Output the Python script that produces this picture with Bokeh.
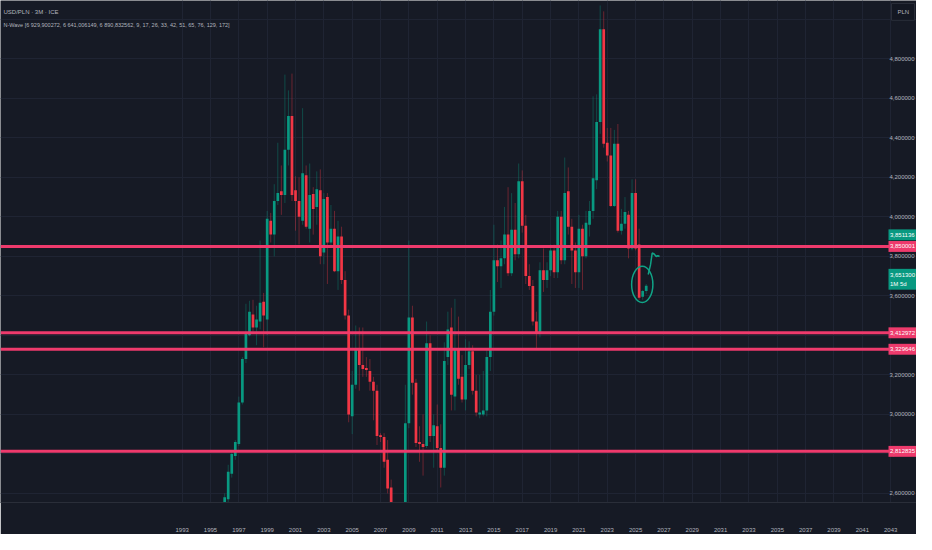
from bokeh.plotting import figure
from bokeh.models import Range1d, FixedTicker, CustomJSTickFormatter, Span, ColumnDataSource
from bokeh.core.properties import value
from bokeh.embed import file_html
from bokeh.resources import INLINE

# ---------------- data (quarterly USD/PLN candles, first bar = Q1 1996) ----------------
start_year = 1996.0
opens = [2.47, 2.57, 2.70, 2.79, 2.85, 3.06, 3.28, 3.40, 3.505, 3.44,
         3.47, 3.57, 3.48, 3.98, 3.91, 4.08, 4.13, 4.11, 4.34, 4.51,
         4.135, 4.08, 3.98, 4.21, 3.94, 4.115, 4.05, 4.135, 3.82, 4.10,
         3.87, 3.94, 3.725, 3.90, 3.68, 3.50, 2.99, 3.15, 3.335, 3.25,
         3.235, 3.22, 3.165, 3.12, 2.895, 2.885, 2.77, 2.63, 2.45, 2.24,
         2.14, 2.40, 2.955, 3.49, 3.16, 2.86, 2.85, 2.84, 3.36, 2.89,
         2.94, 2.83, 2.73, 3.29, 3.44, 3.09, 3.335, 3.19, 3.075, 3.25,
         3.32, 3.12, 3.00, 3.00, 3.02, 3.29, 3.52, 3.78, 3.75, 3.79,
         3.91, 3.715, 3.935, 3.81, 4.18, 3.955, 3.70, 3.65, 3.47, 3.41,
         3.73, 3.68, 3.73, 3.83, 3.72, 4.00, 3.78, 4.13, 3.95, 3.83,
         3.72, 3.94, 3.80, 3.96, 4.03, 4.185, 4.48, 4.95, 4.375, 4.31,
         4.055, 4.37, 3.93, 3.965, 4.01, 3.84, 4.12, 3.86, 3.595, 3.625]
highs = [2.60, 2.745, 2.82, 2.87, 3.09, 3.29, 3.56, 3.575, 3.58, 3.55,
         3.88, 3.615, 4.03, 4.02, 4.165, 4.375, 4.26, 4.72, 4.64, 4.725,
         4.205, 4.20, 4.55, 4.26, 4.27, 4.15, 4.23, 4.24, 4.12, 4.12,
         4.06, 4.03, 3.98, 3.95, 3.725, 3.53, 3.22, 3.45, 3.44, 3.44,
         3.29, 3.28, 3.19, 3.15, 2.905, 2.905, 2.87, 2.67, 2.48, 2.27,
         2.45, 3.15, 3.88, 3.55, 3.18, 2.94, 3.00, 3.47, 3.40, 3.00,
         3.05, 2.95, 3.365, 3.52, 3.54, 3.585, 3.495, 3.30, 3.38, 3.37,
         3.35, 3.20, 3.20, 3.22, 3.33, 3.63, 3.96, 3.86, 3.88, 4.05,
         4.15, 4.12, 4.07, 4.27, 4.235, 4.01, 3.76, 3.68, 3.52, 3.77,
         3.84, 3.77, 3.86, 3.86, 4.03, 4.03, 4.30, 4.25, 3.99, 3.87,
         4.01, 3.96, 4.03, 4.08, 4.61, 4.62, 5.07, 5.04, 4.45, 4.45,
         4.44, 4.47, 4.04, 4.10, 4.03, 4.19, 4.19, 3.94, 3.63, 3.66]
lows = [2.45, 2.55, 2.68, 2.77, 2.84, 3.05, 3.26, 3.395, 3.42, 3.35,
        3.43, 3.34, 3.40, 3.87, 3.80, 4.06, 4.01, 4.07, 4.26, 4.08,
        3.93, 3.86, 3.96, 3.94, 3.87, 3.91, 3.96, 3.76, 3.76, 3.66,
        3.85, 3.72, 3.63, 3.66, 3.48, 2.96, 2.90, 3.13, 3.12, 3.19,
        3.19, 3.12, 2.97, 2.845, 2.86, 2.73, 2.60, 2.43, 2.20, 2.02,
        2.10, 2.30, 2.93, 3.10, 2.835, 2.76, 2.69, 2.83, 2.86, 2.73,
        2.82, 2.63, 2.69, 3.25, 3.02, 3.02, 3.15, 3.06, 3.02, 3.23,
        3.10, 2.99, 2.98, 2.99, 2.99, 3.22, 3.50, 3.67, 3.64, 3.76,
        3.70, 3.70, 3.78, 3.79, 3.92, 3.66, 3.63, 3.45, 3.33, 3.39,
        3.62, 3.64, 3.70, 3.69, 3.69, 3.76, 3.76, 3.91, 3.66, 3.64,
        3.64, 3.63, 3.79, 3.90, 3.99, 4.14, 4.42, 4.35, 4.28, 4.05,
        4.05, 3.92, 3.91, 3.94, 3.79, 3.83, 3.83, 3.58, 3.58, 3.61]
closes = [2.58, 2.71, 2.80, 2.86, 3.06, 3.28, 3.41, 3.52, 3.44, 3.48,
          3.565, 3.50, 3.99, 3.91, 4.08, 4.12, 4.11, 4.34, 4.51, 4.11,
          4.08, 4.00, 4.22, 3.95, 4.11, 4.04, 4.14, 3.80, 4.09, 3.87,
          3.94, 3.725, 3.90, 3.68, 3.50, 3.00, 3.15, 3.33, 3.25, 3.23,
          3.225, 3.165, 3.12, 2.89, 2.885, 2.76, 2.625, 2.45, 2.24, 2.14,
          2.40, 2.955, 3.49, 3.16, 2.855, 2.85, 2.835, 3.36, 2.89, 2.945,
          2.83, 2.73, 3.27, 3.43, 3.10, 3.33, 3.18, 3.075, 3.25, 3.32,
          3.12, 3.01, 3.01, 3.02, 3.29, 3.52, 3.78, 3.75, 3.79, 3.91,
          3.715, 3.935, 3.81, 4.18, 3.955, 3.70, 3.65, 3.47, 3.41, 3.73,
          3.68, 3.73, 3.83, 3.72, 4.00, 3.78, 4.12, 3.95, 3.83, 3.72,
          3.94, 3.80, 3.97, 4.03, 4.195, 4.48, 4.95, 4.37, 4.31, 4.055,
          4.37, 3.93, 3.965, 4.025, 3.84, 4.12, 3.84, 3.59, 3.625, 3.6513]

level_prices = [3.850001, 3.412972, 3.329646, 2.812835]
level_labels = ["3,850001", "3,412972", "3,329646", "2,812835"]
year_ticks = list(range(1993, 2045, 2))
price_ticks = [2.6, 2.8, 3.0, 3.2, 3.4, 3.6, 3.8, 4.0, 4.2, 4.4, 4.6, 4.8, 5.0]
last_price = 3.6513
last_label = ["3,651300", "1M 5d"]
prev_price = 3.851136
prev_label = "3,851136"
currency = "PLN"
title1 = "USD/PLN · 3M · ICE"
title2 = "N-Wave [6 929,900272, 6 641,006149, 6 890,832562, 9, 17, 26, 33, 42, 51, 65, 76, 129, 172]"

# hand-drawn annotation (data units)
circle_x, circle_y, circle_w, circle_h = 2025.47, 3.658, 1.50, 0.184
flag_x = [2025.89, 2026.055, 2026.17, 2026.31, 2026.455, 2026.57, 2026.69]
flag_y = [3.708, 3.758, 3.817, 3.812, 3.799, 3.803, 3.799]

# ---------------- styling / layout ----------------
FONT = "Liberation Sans"
BG = "#161a25"
GRID = "#1f2433"
TXT = "#b2b5be"
UP = "#089981"
DN = "#f23645"
PINK = "#ee3a6c"
TEAL = "#10a386"

W, H, BOTTOM = 916, 534, 28
PXX = 14.17                     # pixels per year
X0 = 1980.18
X1 = X0 + W / PXX
XS = X0 + (W - 28) / PXX        # start of the price-scale strip (28 px wide)
Y1, Y0 = 5.095, 2.554
PXY = (H - BOTTOM) / (Y1 - Y0)  # pixels per price unit
PX = 1.0 / PXY
DX = 1.0 / PXX

times = [start_year + 0.25 * i for i in range(len(opens))]
colors = [UP if c >= o else DN for o, c in zip(opens, closes)]
src = ColumnDataSource(dict(
    t=times, o=opens, h=highs, l=lows, c=closes,
    top=[max(o, c) for o, c in zip(opens, closes)],
    bot=[min(o, c) for o, c in zip(opens, closes)],
    col=colors))

p = figure(width=W, height=H, x_range=Range1d(X0, X1), y_range=Range1d(Y0, Y1),
           output_backend="svg", toolbar_location=None, y_axis_location=None,
           min_border_left=0, min_border_top=0, min_border_right=0, min_border_bottom=BOTTOM)
p.background_fill_color = BG
p.border_fill_color = BG
p.outline_line_color = None

# x axis
p.xaxis.ticker = FixedTicker(ticks=year_ticks)
p.xaxis.formatter = CustomJSTickFormatter(code="return tick.toFixed(0);")
p.xaxis.major_label_text_font = FONT
p.xaxis.major_label_text_font_size = "6px"
p.xaxis.major_label_text_color = TXT
p.xaxis.major_tick_line_color = None
p.xaxis.minor_tick_line_color = None
p.xaxis.axis_line_color = "#2a2e39"
p.xaxis.major_label_standoff = 19
p.xgrid.grid_line_color = GRID
p.ygrid.ticker = FixedTicker(ticks=price_ticks)
p.ygrid.grid_line_color = GRID

# candles
p.segment(x0="t", x1="t", y0="l", y1="h", source=src, line_color="col", line_alpha=0.38, line_width=1)
p.vbar(x="t", width=0.19, top="top", bottom="bot", source=src, fill_color="col", line_color=None)

# horizontal levels
for lv in level_prices:
    p.add_layout(Span(location=lv, dimension="width", line_color=PINK, line_width=3))

# annotation
p.ellipse(x=[circle_x], y=[circle_y], width=[circle_w], height=[circle_h],
          fill_color=None, line_color=TEAL, line_width=1.5)
p.line(flag_x, flag_y, line_color=TEAL, line_width=1.5)

# ---------------- price scale strip ----------------
shown = [v for v in price_ticks if v < 4.9]
tick_text = [f"{v:.6f}".replace(".", ",") for v in shown]
p.text(x=[X1] * len(shown), y=shown, text=tick_text, x_offset=-2,
       text_align="right", text_baseline="middle", text_font=value(FONT),
       text_font_size="6px", text_color=TXT, level="overlay")

def boxes(prices, labels, fill, half_px=5.5, shift_px=0.0):
    ys = [v + shift_px * PX for v in prices]
    p.quad(left=[XS] * len(ys), right=[X1] * len(ys),
           top=[y + half_px * PX for y in ys], bottom=[y - half_px * PX for y in ys],
           fill_color=fill, line_color=None, level="overlay")
    p.text(x=[XS] * len(ys), y=ys, text=labels, x_offset=1.5, text_align="left",
           text_baseline="middle", text_font=value(FONT), text_font_size="6px",
           text_color="white", level="overlay")

boxes(level_prices, level_labels, PINK)
boxes([prev_price], [prev_label], UP, shift_px=11.5)
# current price: two-line box
p.quad(left=[XS], right=[X1], top=[last_price + 17 * PX], bottom=[last_price - 4 * PX],
       fill_color=UP, line_color=None, level="overlay")
p.text(x=[XS, XS], y=[last_price + 11 * PX, last_price + 2 * PX], text=last_label, x_offset=1.5,
       text_align="left", text_baseline="middle", text_font=value(FONT), text_font_size="6px",
       text_color="white", level="overlay")

# currency box (top right)
p.quad(left=[XS + 3 * DX], right=[X1 - 2 * DX], top=[Y1 - 3 * PX], bottom=[Y1 - 20 * PX],
       fill_color="#131722", line_color="#2a2e39", level="overlay")
p.text(x=[XS + 3 * DX], y=[Y1 - 11.5 * PX], text=[currency], x_offset=6, text_align="left",
       text_baseline="middle", text_font=value(FONT), text_font_size="6px",
       text_color=TXT, level="overlay")

# titles
p.text(x=[X0, X0], y=[Y1 - 12 * PX, Y1 - 25 * PX], text=[title1, title2], x_offset=3,
       text_align="left", text_baseline="middle", text_font=value(FONT),
       text_font_size=["6px", "5.5px"], text_color=TXT, level="overlay")

open("out.html", "w").write(file_html(p, INLINE))
